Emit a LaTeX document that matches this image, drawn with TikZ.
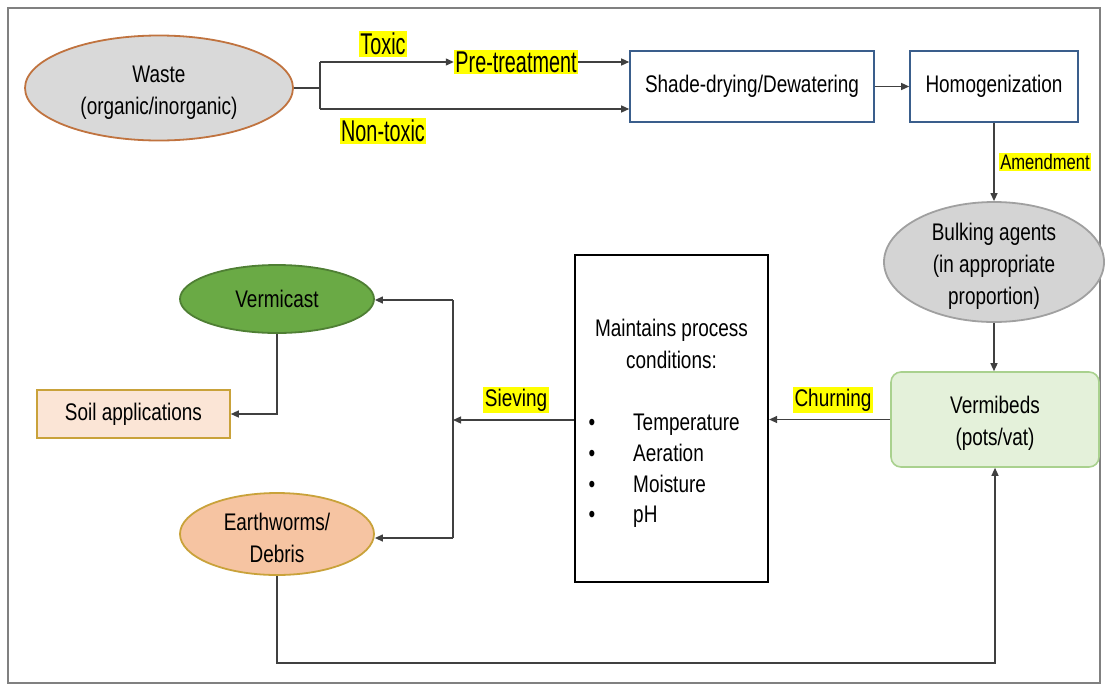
\documentclass[tikz,border=0pt]{standalone}
\usepackage{fontspec}
\setmainfont[FakeStretch=0.79]{Liberation Sans}
\newfontfamily\labelfont[FakeStretch=0.66]{Liberation Sans}
\usetikzlibrary{shapes.geometric,arrows.meta}
\definecolor{wastefill}{HTML}{D9D9D9}
\definecolor{wasteborder}{HTML}{C0733F}
\definecolor{bluebord}{HTML}{3A5E8C}
\definecolor{bulkfill}{HTML}{D4D4D4}
\definecolor{bulkborder}{HTML}{A0A0A0}
\definecolor{vermfill}{HTML}{E4F1DA}
\definecolor{vermborder}{HTML}{A9D18E}
\definecolor{castfill}{HTML}{6AAA45}
\definecolor{castborder}{HTML}{4F7F34}
\definecolor{soilfill}{HTML}{FBE5D6}
\definecolor{goldborder}{HTML}{C9A23A}
\definecolor{ewfill}{HTML}{F6C4A2}
\definecolor{linegray}{HTML}{404040}
\definecolor{framegray}{HTML}{808080}
\definecolor{hlyellow}{HTML}{FFFF00}
\newcommand{\myTopStrut}{\rule{0pt}{25pt}}
\begin{document}
\begin{tikzpicture}[x=1pt,y=-1pt,
  base/.style={font=\fontsize{24}{32}\selectfont, align=center, inner sep=0pt, text=black},
  ell/.style={base, ellipse, line width=1.8pt},
  rectbox/.style={base, rectangle, line width=1.6pt},
  hl/.style={fill=hlyellow, font=\labelfont\fontsize{30}{32}\selectfont, inner sep=1.5pt, text=black},
  hlsmall/.style={fill=hlyellow, font=\fontsize{24}{26}\selectfont, inner sep=1.5pt, text=black},
  conn/.style={draw=linegray, line width=1.3pt},
  arr/.style={conn, -{Triangle[length=8pt,width=7pt]}}]
\useasboundingbox (0,0) rectangle (1107,686);
\draw[framegray, line width=1.5pt] (8,8) rectangle (1100,683);

% nodes
\node[ell, fill=wastefill, draw=wasteborder, minimum width=268pt, minimum height=105pt] (waste) at (159,88) {\myTopStrut Waste\\(organic/inorganic)};
\node[rectbox, draw=bluebord, minimum width=244pt, minimum height=71pt] (shade) at (752,86.5) {Shade-drying/Dewatering};
\node[rectbox, draw=bluebord, minimum width=168pt, minimum height=71pt] (homog) at (994,86.5) {Homogenization};
\node[ell, fill=bulkfill, draw=bulkborder, inner sep=-9pt, minimum width=220pt, minimum height=120pt] (bulk) at (994,262) {\myTopStrut Bulking agents\\(in appropriate\\proportion)};
\node[rectbox, fill=vermfill, draw=vermborder, rounded corners=10pt, minimum width=208pt, minimum height=95pt] (verm) at (995,419.5) {\myTopStrut Vermibeds\\(pots/vat)};
\node[rectbox, draw=black, line width=2.2pt, minimum width=193pt, minimum height=327pt] (maint) at (671.5,418.5) {};
\node[ell, fill=castfill, draw=castborder, minimum width=194pt, minimum height=68pt] (vcast) at (277,299) {Vermicast};
\node[rectbox, fill=soilfill, draw=goldborder, minimum width=193pt, minimum height=48pt] (soil) at (133.5,414) {Soil applications};
\node[ell, fill=ewfill, draw=goldborder, minimum width=194pt, minimum height=82pt] (ew) at (277,534) {\myTopStrut Earthworms/\\Debris};

% text inside the process box
\node[base] (mhead) at (671.5,344) {Maintains process\\conditions:};
\node[base, anchor=base] (b1) at (592,430) {•};
\node[base, anchor=base] (b2) at (592,461) {•};
\node[base, anchor=base] (b3) at (592,492) {•};
\node[base, anchor=base] (b4) at (592,522) {•};
\node[base, anchor=base west] (t1) at (633,430) {Temperature};
\node[base, anchor=base west] (t2) at (633,461) {Aeration};
\node[base, anchor=base west] (t3) at (633,492) {Moisture};
\node[base, anchor=base west] (t4) at (633,522) {pH};

% labels
\node[hl] (toxic) at (383,44) {Toxic};
\node[hl] (nontoxic) at (383,131) {Non-toxic};
\node[hl] (pre) at (516,62) {Pre-treatment};
\node[hlsmall, font=\fontsize{21}{23}\selectfont] (amend) at (1045,162) {Amendment};
\node[hlsmall] (churn) at (833,400) {Churning};
\node[hlsmall] (sieve) at (516,400) {Sieving};

% connectors
\coordinate (split) at (320,88);
\coordinate (splitT) at (320,62);
\coordinate (splitB) at (320,109);
\draw[conn] (waste.east) -- (split);
\draw[conn] (splitT) -- (splitB);
\draw[arr] (splitT) -- (pre.west);
\draw[arr] (pre.east) -- (pre.east -| shade.west);
\draw[arr] (splitB) -- (splitB -| shade.west);
\draw[arr] (shade) -- (homog);
\draw[arr] (homog.south) -- (bulk.north);
\draw[arr] (bulk.south) -- (bulk.south |- verm.north);
\draw[arr] (verm.west) -- (verm.west -| maint.east);
\coordinate (sv) at (453,420);
\coordinate (svT) at (453,300);
\coordinate (svB) at (453,538);
\draw[arr] (maint.west |- sv) -- (sv);
\draw[conn] (svT) -- (svB);
\draw[arr] (svT) -- (svT -| vcast.east);
\draw[arr] (svB) -- (svB -| ew.east);
\draw[arr] (vcast.south) |- (soil.east);
\coordinate (loop) at (995,663);
\draw[arr] (ew.south) |- (loop) -- (verm.south);
\end{tikzpicture}
\end{document}
